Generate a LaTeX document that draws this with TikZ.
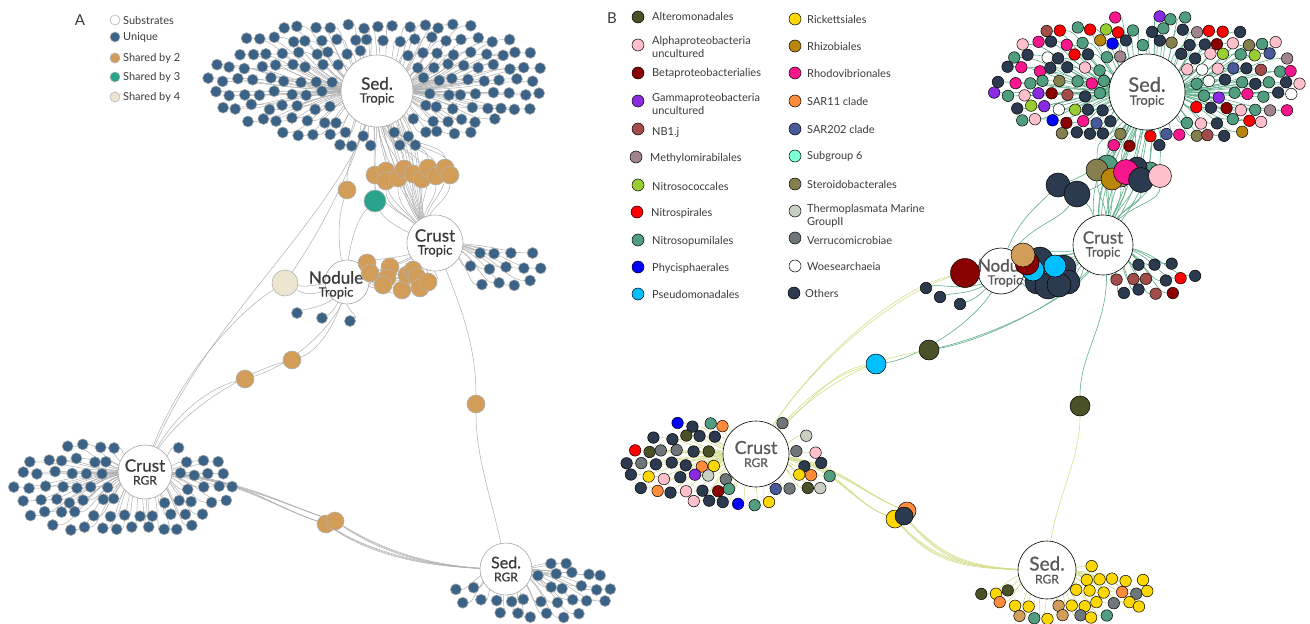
\documentclass[tikz,border=0pt]{standalone}
\usepackage{fontspec}
\setmainfont{Lato}
\newfontface\hubf{Lato}[FakeBold=0.8]
\usetikzlibrary{backgrounds}
\definecolor{uniq}{HTML}{3B6387}
\definecolor{tanc}{HTML}{D29C59}
\definecolor{grnc}{HTML}{2AA38D}
\definecolor{beig}{HTML}{ECE6D0}
\definecolor{edgeg}{HTML}{B0B0B0}
\definecolor{txtc}{HTML}{3A3A3A}
\definecolor{edgeG}{HTML}{5FAE8A}
\definecolor{edgeY}{HTML}{D5DD8C}
\definecolor{alt}{HTML}{4A5126}
\definecolor{alp}{HTML}{FFC0CB}
\definecolor{bet}{HTML}{8B0000}
\definecolor{gam}{HTML}{8A2BE2}
\definecolor{nbj}{HTML}{A34D4A}
\definecolor{mth}{HTML}{A0848E}
\definecolor{nsc}{HTML}{9ACD32}
\definecolor{nsr}{HTML}{FF0000}
\definecolor{nsp}{HTML}{509D80}
\definecolor{phy}{HTML}{0000FF}
\definecolor{pse}{HTML}{00BFFF}
\definecolor{ric}{HTML}{FFD700}
\definecolor{rhz}{HTML}{B8860B}
\definecolor{rho}{HTML}{F7168C}
\definecolor{sar}{HTML}{FF8C3A}
\definecolor{s22}{HTML}{4A5A98}
\definecolor{sg6}{HTML}{7FFFD4}
\definecolor{ste}{HTML}{857F4E}
\definecolor{thm}{HTML}{C9D0C3}
\definecolor{ver}{HTML}{6E7679}
\definecolor{woe}{HTML}{FFFFFF}
\definecolor{oth}{HTML}{2B3A4E}
\pgfmathdeclarerandomlist{LA}{{uniq}}
\pgfmathdeclarerandomlist{LST}{{oth}{oth}{oth}{oth}{oth}{oth}{oth}{oth}{oth}{nsp}{nsp}{nsp}{nsp}{nsp}{nsp}{nsp}{nsp}{alp}{alp}{nsr}{nsr}{rho}{rho}{rho}{gam}{phy}{nbj}{mth}{ste}{nsc}{sg6}{woe}{s22}{rhz}{bet}{alp}}
\pgfmathdeclarerandomlist{LCT}{{oth}{oth}{oth}{oth}{oth}{oth}{nsr}{nbj}{gam}{bet}{rhz}}
\pgfmathdeclarerandomlist{LCR}{{oth}{oth}{oth}{oth}{oth}{oth}{oth}{oth}{oth}{oth}{nsp}{nsp}{nsp}{nsp}{nsp}{thm}{thm}{thm}{thm}{sar}{sar}{sar}{alt}{alt}{alt}{ver}{ver}{ver}{alp}{alp}{ric}{ric}{nsr}{gam}{phy}{nsc}{s22}{bet}}
\pgfmathdeclarerandomlist{LSR}{{ric}{ric}{ric}{ric}{ric}{ric}{ric}{ric}{ric}{ric}{ric}{ric}{sar}{sar}{sar}{alt}{oth}{ver}{nsp}{tanc}}
\tikzset{
 uA/.style={circle,inner sep=0pt,minimum size=11pt,draw=black!35,line width=0.6pt},
 uB/.style={circle,inner sep=0pt,minimum size=11.5pt,draw=black,line width=0.5pt},
 sA/.style={circle,inner sep=0pt,minimum size=#1,draw=black!30,line width=0.6pt},
 sB/.style={circle,inner sep=0pt,minimum size=#1,draw=black,line width=0.5pt},
 eA/.style={draw=edgeg,line width=0.5pt},
 eG/.style={draw=edgeG,line width=0.6pt},
 eY/.style={draw=edgeY,line width=0.6pt},
 hubA/.style={circle,draw=black!35,fill=white,line width=0.6pt,inner sep=0pt,align=center,text=txtc,minimum size=#1},
 hubB/.style={circle,draw=black,fill=white,line width=0.6pt,inner sep=0pt,align=center,text=black!65,minimum size=#1},
 hlab/.style={align=center,inner sep=0pt},
 legt/.style={anchor=west,inner sep=0pt,font=\fontsize{11}{13}\selectfont,text=txtc,align=left},
 panel/.style={font=\fontsize{15}{15}\selectfont,text=txtc,inner sep=0pt}
}
\newcommand\hubtx[4]{{\hubf\fontsize{#1}{#1}\selectfont #3}\\[1pt]{\hubf\fontsize{#2}{#2}\selectfont #4}}
% grid-filled elliptical cluster
\newcommand\mkgrid[9]{%
\gdef\cEdges{}%
\pgfmathsetmacro\cH{0.87*#7}%
\pgfmathtruncatemacro\cNr{floor(#6/\cH)+1}%
\pgfmathtruncatemacro\cNrm{-\cNr}%
\pgfmathtruncatemacro\cNc{floor(#5/#7)+1}%
\pgfmathtruncatemacro\cNcm{-\cNc}%
\foreach \jj in {\cNrm,...,\cNr}{%
 \foreach \kk in {\cNcm,...,\cNc}{%
  \pgfmathsetmacro\cX{#3+(\kk+0.5*mod(abs(\jj),2))*#7+2.8*rand}%
  \pgfmathsetmacro\cY{#4+\jj*\cH+2.6*rand}%
  \pgfmathsetmacro\cE{((\cX-#3)/#5)^2+((\cY-#4)/#6)^2}%
  \pgfmathsetmacro\cD{10*veclen((\cX-\cHx)/10,(\cY-\cHy)/10)}%
  \pgfmathtruncatemacro\cOk{and(and(\cE<1.03,\cD>\cHr),\cKeep)}%
  \ifnum\cOk=1
   \pgfmathrandomitem{\cCol}{#8}%
   \pgfmathtruncatemacro\cI{\jj+50}\pgfmathtruncatemacro\cJ{\kk+50}%
   \node[#9,fill=\cCol] (#1-\cI-\cJ) at (\cX,\cY) {};
   \pgfmathsetmacro\cAx{\cHx+0.6*(\cX-\cHx)}%
   \pgfmathsetmacro\cBx{\cX-0.3*(\cX-\cHx)}%
   \xdef\cEdges{\unexpanded\expandafter{\cEdges}\noexpand\draw[\cEs] (#2.center) .. controls (\cAx,\cHy) and (\cBx,\cY) .. (#1-\cI-\cJ);}%
  \fi
 }}%
\begin{scope}[on background layer]\cEdges\end{scope}}
\begin{document}
\begin{tikzpicture}[x=1pt,y=-1pt]
\useasboundingbox (0,0) rectangle (1310,624);
\pgfmathsetseed{5}
% ---------------- Legend A
\node[panel] (labA) at (80,20) {A};
\node[sA=10pt,fill=white] (la1) at (115,20) {};
\node[legt] (lat1) at (123,20) {Substrates};
\node[sA=10pt,fill=uniq] (la2) at (115,37) {};
\node[legt] (lat2) at (123,37) {Unique};
\node[sA=10pt,fill=tanc] (la3) at (115,58) {};
\node[legt] (lat3) at (123,58) {Shared by 2};
\node[sA=10pt,fill=grnc] (la4) at (115,77) {};
\node[legt] (lat4) at (123,77) {Shared by 3};
\node[sA=10pt,fill=beig] (la5) at (115,97) {};
\node[legt] (lat5) at (123,97) {Shared by 4};
% ---------------- Legend B
\node[panel] (labB) at (612,18) {B};
\node[sB=12pt,fill=alt] (lb1) at (638,17) {};
\node[legt] (lbt1) at (652,16) {Alteromonadales};
\node[sB=12pt,fill=alp] (lb2) at (638,45) {};
\node[legt] (lbt2) at (652,47) {Alphaproteobacteria\\uncultured};
\node[sB=12pt,fill=bet] (lb3) at (638,73) {};
\node[legt] (lbt3) at (652,73) {Betaproteobacterialies};
\node[sB=12pt,fill=gam] (lb4) at (638,101) {};
\node[legt] (lbt4) at (652,104) {Gammaproteobacteria\\uncultured};
\node[sB=12pt,fill=nbj] (lb5) at (638,129) {};
\node[legt] (lbt5) at (652,132) {NB1.j};
\node[sB=12pt,fill=mth] (lb6) at (636,157) {};
\node[legt] (lbt6) at (650,158) {Methylomirabilales};
\node[sB=12pt,fill=nsc] (lb7) at (638,185) {};
\node[legt] (lbt7) at (652,186) {Nitrosococcales};
\node[sB=12pt,fill=nsr] (lb8) at (637,212) {};
\node[legt] (lbt8) at (651,213) {Nitrospirales};
\node[sB=12pt,fill=nsp] (lb9) at (638,240) {};
\node[legt] (lbt9) at (652,241) {Nitrosopumilales};
\node[sB=12pt,fill=phy] (lb10) at (638,267) {};
\node[legt] (lbt10) at (652,268) {Phycisphaerales};
\node[sB=12pt,fill=pse] (lb11) at (638,294) {};
\node[legt] (lbt11) at (652,294) {Pseudomonadales};
\node[sB=12pt,fill=ric] (lc1) at (795,19) {};
\node[legt] (lct1) at (807,19) {Rickettsiales};
\node[sB=12pt,fill=rhz] (lc2) at (795,46) {};
\node[legt] (lct2) at (807,46) {Rhizobiales};
\node[sB=12pt,fill=rho] (lc3) at (795,73) {};
\node[legt] (lct3) at (807,73) {Rhodovibrionales};
\node[sB=12pt,fill=sar] (lc4) at (795,101) {};
\node[legt] (lct4) at (807,101) {SAR11 clade};
\node[sB=12pt,fill=s22] (lc5) at (795,129) {};
\node[legt] (lct5) at (807,129) {SAR202 clade};
\node[sB=12pt,fill=sg6] (lc6) at (795,156) {};
\node[legt] (lct6) at (807,156) {Subgroup 6};
\node[sB=12pt,fill=ste] (lc7) at (795,184) {};
\node[legt] (lct7) at (807,184) {Steroidobacterales};
\node[sB=12pt,fill=thm] (lc8) at (795,211) {};
\node[legt] (lct8) at (807,216) {Thermoplasmata Marine\\GroupII};
\node[sB=12pt,fill=ver] (lc9) at (795,238) {};
\node[legt] (lct9) at (807,240) {Verrucomicrobiae};
\node[sB=12pt,fill=woe] (lc10) at (795,266) {};
\node[legt] (lct10) at (807,266) {Woesearchaeia};
\node[sB=12pt,fill=oth] (lc11) at (794,293) {};
\node[legt] (lct11) at (805,293) {Others};
% ---------------- Hubs A
\node[hubA=72pt] (sTA) at (377,91) {\hubtx{17}{13}{Sed.}{Tropic}};
\node[hubA=56pt] (cTA) at (435,243) {\hubtx{17}{13}{Crust}{Tropic}};
\node[hubA=44pt] (nTA) at (347,282) {};
\node[hlab,text=txtc] (nTAl) at (336,285) {\hubtx{17}{13}{Nodule}{Tropic}};
\node[hubA=54pt] (cRA) at (145,472) {\hubtx{17}{12}{Crust}{RGR}};
\node[hubA=52pt] (sRA) at (506,569) {\hubtx{16}{12}{Sed.}{RGR}};
% ---------------- Hubs B
\node[hubB=76pt] (sTB) at (1147,92) {\hubtx{20}{13}{Sed.}{Tropic}};
\node[hubB=60pt] (cTB) at (1103,245) {\hubtx{17}{13}{Crust}{Tropic}};
\node[hubB=46pt] (nTB) at (1001,271) {};
\node[hlab,text=black!65] (nTBl) at (1005,273) {\hubtx{17}{13}{Nodule}{Tropic}};
\node[hubB=66pt] (cRB) at (756,454) {\hubtx{18}{12}{Crust}{RGR}};
\node[hubB=58pt] (sRB) at (1047,570) {\hubtx{19}{12}{Sed.}{RGR}};
% ---------------- Clusters A
\def\cEs{eA}\def\cKeep{1}
\def\cHx{377}\def\cHy{91}\def\cHr{43}
\mkgrid{sa}{sTA}{377}{80}{167}{66}{15.5}{LA}{uA}
\def\cHx{145}\def\cHy{472}\def\cHr{34}
\mkgrid{ca}{cRA}{124}{487}{112}{50}{15.5}{LA}{uA}
\def\cHx{435}\def\cHy{243}\def\cHr{35}\def\cKeep{\cX>460}
\mkgrid{ta}{cTA}{505}{268}{45}{24}{17}{LA}{uA}
\def\cHx{506}\def\cHy{569}\def\cHr{32}\def\cKeep{or(\cX>\cHx+8,\cY>\cHy+16)}
\mkgrid{ra}{sRA}{533}{588}{86}{31}{15.5}{LA}{uA}
% ---------------- Clusters B
\def\cEs{eG}\def\cKeep{1}
\def\cHx{1147}\def\cHy{92}\def\cHr{44}
\mkgrid{sb}{sTB}{1150}{82}{157}{66}{15}{LST}{uB}
\def\cHx{1103}\def\cHy{245}\def\cHr{37}\def\cKeep{\cX>1088}
\mkgrid{tb}{cTB}{1148}{278}{54}{18}{16}{LCT}{uB}
\def\cEs{eY}\def\cKeep{1}
\def\cHx{756}\def\cHy{454}\def\cHr{39}
\mkgrid{cb}{cRB}{731}{464}{104}{47}{15}{LCR}{uB}
\def\cHx{1047}\def\cHy{570}\def\cHr{35}\def\cKeep{or(\cX>\cHx+8,\cY>\cHy+16)}
\mkgrid{rb}{sRB}{1064}{592}{87}{28}{14}{LSR}{uB}
% ---------------- Nodule unique
\foreach \i/\x/\y in {1/297/313,2/322/318,3/350/321}{\node[uA,fill=uniq] (nua\i) at (\x,\y) {};}
\foreach \i/\x/\y in {1/926/288,2/940/297,3/960/304}{\node[uB,fill=oth] (nub\i) at (\x,\y) {};}
% ---------------- Shared A
\foreach \i/\x/\y in {1/375/175,2/386/171,3/386/181,4/398/178,5/404/169,6/413/174,7/422/179,8/428/168,9/436/176,10/445/168,11/450/175}{
 \node[sA=18pt,fill=tanc] (tt\i) at (\x,\y) {};}
\node[sA=18pt,fill=tanc] (tS) at (347,190) {};
\node[sA=22pt,fill=grnc] (gr) at (375,201) {};
\node[sA=26pt,fill=beig] (be) at (285,283) {};
\foreach \i/\x/\y in {1/367/263,2/370/273,3/390/267,4/387/278,5/383/285,6/402/290,7/407/275,8/413/270,9/417/277,10/420/288,11/428/282}{
 \node[sA=18pt,fill=tanc] (tl\i) at (\x,\y) {};}
\node[sA=18pt,fill=tanc] (tA) at (292,360) {};
\node[sA=18pt,fill=tanc] (tB) at (245,379) {};
\node[sA=18pt,fill=tanc] (tC) at (476,404) {};
\node[sA=18pt,fill=tanc] (tD) at (326,524) {};
\node[sA=18pt,fill=tanc] (tE) at (335,521) {};
% ---------------- Shared B
\node[sB=22pt,fill=nsp] (bt1) at (1107,166) {};
\node[sB=20pt,fill=nsp] (bt2) at (1150,172) {};
\node[sB=20pt,fill=oth] (bt3) at (1137,167) {};
\node[sB=22pt,fill=ste] (bt5) at (1097,170) {};
\node[sB=8pt,fill=nsr] (bt4) at (1106,178) {};
\node[sB=20pt,fill=mth] (bt6) at (1121,177) {};
\node[sB=22pt,fill=rhz] (bt7) at (1112,179) {};
\node[sB=25pt,fill=rho] (bt8) at (1126,172) {};
\node[sB=25pt,fill=oth] (bt9) at (1141,180) {};
\node[sB=23pt,fill=alp] (bt10) at (1160,176) {};
\node[sB=24pt,fill=oth] (bd1) at (1058,185) {};
\node[sB=26pt,fill=oth] (bd2) at (1077,194) {};
\node[sB=26pt,fill=oth] (bn1) at (1040,260) {};
\node[sB=26pt,fill=oth] (bn2) at (1063,268) {};
\node[sB=24pt,fill=oth] (bn3) at (1068,282) {};
\node[sB=24pt,fill=oth] (bn4) at (1037,282) {};
\node[sB=26pt,fill=oth] (bn5) at (1048,286) {};
\node[sB=24pt,fill=oth] (bn6) at (1059,285) {};
\node[sB=22pt,fill=pse] (bn7) at (1033,270) {};
\node[sB=22pt,fill=pse] (bn8) at (1055,266) {};
\node[sB=24pt,fill=bet] (bn9) at (1027,263) {};
\node[sB=24pt,fill=tanc] (bn10) at (1023,255) {};
\node[sB=29pt,fill=bet] (bbp) at (965,273) {};
\node[sB=20pt,fill=alt] (bal1) at (929,350) {};
\node[sB=20pt,fill=pse] (bps) at (876,364) {};
\node[sB=20pt,fill=alt] (bal2) at (1080,406) {};
\node[sB=18pt,fill=ric] (by1) at (895,519) {};
\node[sB=18pt,fill=sar] (by2) at (907,511) {};
\node[sB=18pt,fill=oth] (by3) at (904,516) {};
% ---------------- All shared connectors
\begin{scope}[on background layer]
\foreach \i in {1,2,3}{
 \draw[eA] (nTA.center) .. controls +(-10,25) and +(10,-5) .. (nua\i);
 \draw[eG] (nTB.center) .. controls +(-20,25) and +(15,-5) .. (nub\i);}
\foreach \i/\x in {1/375,2/386,3/386,4/398,5/404,6/413,7/422,8/428,9/436,10/445,11/450}{
 \draw[eA] (sTA.center) .. controls +(0,60) and +(0,-30) .. (tt\i);
 \draw[eA] (tt\i) .. controls +(0,30) and +(-25,-30) .. (cTA.center);
 \draw[eA] (sTA.center) .. controls +(\x-385,40) and +(-30,-40) .. (cTA.center);}
\foreach \i in {1,...,11}{
 \draw[eA] (nTA.center) .. controls +(25,-5) and +(-15,5) .. (tl\i);
 \draw[eA] (tl\i) .. controls +(15,-5) and +(-20,15) .. (cTA.center);}
\draw[eA] (sTA.center) .. controls +(-20,60) and +(0,-30) .. (tS);
\draw[eA] (tS) .. controls +(-10,30) and +(-10,-30) .. (nTA.center);
\draw[eA] (sTA.center) .. controls +(-5,60) and +(0,-30) .. (gr);
\draw[eA] (gr) .. controls +(10,20) and +(-30,-10) .. (cTA.center);
\draw[eA] (gr) .. controls +(-20,20) and +(0,-30) .. (nTA.center);
\draw[eA] (sTA.center) .. controls +(-25,80) and +(40,-60) .. (be);
\draw[eA] (be) .. controls +(25,5) and +(-25,0) .. (nTA.center);
\draw[eA] (be) .. controls +(25,15) and +(-25,10) .. (nTA.center);
\draw[eA] (be) .. controls +(-50,30) and +(20,-80) .. (cRA.center);
\draw[eA] (sTA.center) .. controls +(-25,120) and +(50,-150) .. (cRA.center);
\draw[eA] (cRA.center) .. controls +(25,-60) and +(-40,10) .. (tA);
\draw[eA] (tA) .. controls +(30,-10) and +(-5,30) .. (nTA.center);
\draw[eA] (cRA.center) .. controls +(20,-50) and +(-40,10) .. (tB);
\draw[eA] (tB) .. controls +(50,-15) and +(0,35) .. (nTA.center);
\draw[eA] (cTA.center) .. controls +(25,60) and +(0,-60) .. (tC);
\draw[eA] (tC) .. controls +(0,60) and +(-10,-60) .. (sRA.center);
\foreach \d in {0,2,4}{
 \draw[eA] (cRA.center) .. controls +(90,\d) and +(-60,-20) .. (tD);
 \draw[eA] (cRA.center) .. controls +(90,\d+3) and +(-60,-20) .. (tE);
 \draw[eA] (tD) .. controls +(50,30+\d) and +(-70,0) .. (sRA.center);
 \draw[eA] (tE) .. controls +(50,30+\d) and +(-70,0) .. (sRA.center);}
\foreach \n/\x in {1/1107,2/1150,3/1137,4/1106,5/1097,6/1121,7/1112,8/1126,9/1141,10/1160}{
 \draw[eG] (sTB.center) .. controls +(\x-1140,60) and +(0,-40) .. (bt\n);
 \draw[eG] (bt\n) .. controls +(0,30) and +(10,-40) .. (cTB.center);
 \draw[eG] (sTB.center) .. controls +(\x-1145,70) and +(\x-1120,-50) .. (cTB.center);}
\draw[eG] (sTB.center) .. controls +(-20,60) and +(30,-10) .. (bd1);
\draw[eG] (sTB.center) .. controls +(-15,70) and +(30,-10) .. (bd2);
\draw[eG] (bd1) .. controls +(-25,25) and +(10,-45) .. (nTB.center);
\draw[eG] (bd2) .. controls +(-20,30) and +(20,-45) .. (nTB.center);
\draw[eG] (bd2) .. controls +(15,15) and +(-10,-30) .. (cTB.center);
\foreach \n in {1,...,10}{
 \draw[eG] (nTB.center) .. controls +(20,0) and +(-15,5) .. (bn\n);
 \draw[eG] (bn\n) .. controls +(15,-5) and +(-20,10) .. (cTB.center);}
\draw[eY] (cRB.center) .. controls +(40,-80) and +(-70,20) .. (bbp);
\draw[eY] (cRB.center) .. controls +(45,-85) and +(-70,15) .. (bbp);
\draw[eG] (bbp) .. controls +(15,0) and +(-15,0) .. (nTB.center);
\draw[eY] (cRB.center) .. controls +(50,-60) and +(-40,10) .. (bps);
\draw[eY] (cRB.center) .. controls +(55,-55) and +(-40,5) .. (bps);
\draw[eG] (bps) .. controls +(40,-5) and +(-10,45) .. (nTB.center);
\draw[eY] (cRB.center) .. controls +(60,-70) and +(-60,10) .. (bal1);
\draw[eG] (bal1) .. controls +(60,-10) and +(-10,45) .. (cTB.center);
\draw[eG] (bal1) .. controls +(65,-15) and +(-5,45) .. (cTB.center);
\draw[eG] (cTB.center) .. controls +(15,70) and +(0,-60) .. (bal2);
\draw[eY] (bal2) .. controls +(0,60) and +(5,-70) .. (sRB.center);
\foreach \d in {0,3,6}{
 \draw[eY] (cRB.center) .. controls +(80,\d) and +(-50,-20) .. (by1);
 \draw[eY] (cRB.center) .. controls +(80,\d+2) and +(-50,-20) .. (by2);
 \draw[eY] (by1) .. controls +(40,40+\d) and +(-80,0) .. (sRB.center);
 \draw[eY] (by3) .. controls +(40,40+\d) and +(-80,0) .. (sRB.center);}
\end{scope}
\end{tikzpicture}
\end{document}
